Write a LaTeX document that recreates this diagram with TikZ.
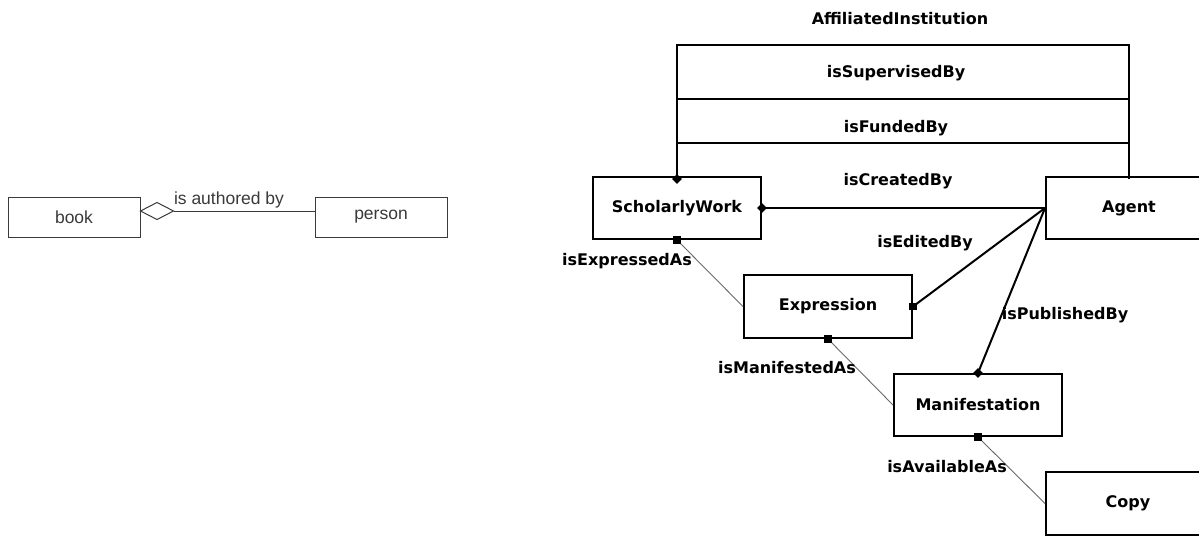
\documentclass[tikz,border=0pt]{standalone}
\usepackage{fontspec}
\usetikzlibrary{shapes.geometric}
\newfontfamily\umlfont{DejaVu Sans}
\newfontfamily\plainfont{Liberation Sans}
\definecolor{inkgray}{HTML}{3A3A3A}
\definecolor{linkgray}{HTML}{6A6A6A}
\tikzset{
  cls/.style={draw=black, line width=2pt, rectangle, inner sep=0pt,
    font=\umlfont\bfseries\fontsize{16}{19}\selectfont},
  simplecls/.style={draw=inkgray, line width=1pt, rectangle, inner sep=0pt,
    minimum width=132pt, minimum height=40pt, text=inkgray,
    font=\plainfont\fontsize{17.5}{20}\selectfont},
  rel/.style={draw=black, line width=2pt},
  weak/.style={draw=linkgray, line width=0.9pt},
  lbl/.style={inner sep=0pt, font=\umlfont\bfseries\fontsize{16}{19}\selectfont},
  dmark/.style={diamond, fill=black, inner sep=0pt, minimum size=10pt},
  smark/.style={rectangle, fill=black, inner sep=0pt, minimum size=7.5pt},
}
\begin{document}
\begin{tikzpicture}[x=1pt, y=-1pt]
\useasboundingbox (0,0) rectangle (1199,536);
\clip (0,0) rectangle (1199,536);
\fill[white] (0,0) rectangle (1199,536);

% simple association on the left
\node[simplecls] (book) at (74,217) {book};
\node[simplecls] (person) at (381,217) {person};
\coordinate (dstart) at (book.east |- 0,211);
\draw[draw=inkgray, line width=1pt, fill=white]
  (dstart) -- ++(16.5,-8.5) coordinate (dtop) -- ++(16.5,8.5) coordinate (dtip)
  -- ++(-16.5,8.5) -- cycle;
\draw[draw=inkgray, line width=1pt] (dtip) -- (person.west |- dtip);
\node[inner sep=0pt, text=inkgray, font=\plainfont\fontsize{17.5}{20}\selectfont]
  (authlbl) at (229,200) {is authored by};

% classes
\node[cls, minimum width=168pt, minimum height=62pt] (sw) at (677,208) {ScholarlyWork};
\node[cls, minimum width=166pt, minimum height=62pt] (agent) at (1129,208) {Agent};
\node[cls, minimum width=168pt, minimum height=63pt] (expr) at (828,306.5) {Expression};
\node[cls, minimum width=168pt, minimum height=62pt] (manif) at (978,405) {Manifestation};
\node[cls, minimum width=164pt, minimum height=63pt] (copy) at (1128,503.5) {Copy};

% frame of relations above the two top classes
\coordinate (ytop) at (0,45);
\coordinate (ymid) at (0,99);
\coordinate (ylow) at (0,143);
\draw[rel] (sw.north) -- (sw.north |- ytop) -- (agent.north |- ytop)
  -- ([yshift=-3pt]agent.north);
\draw[rel] (sw.north |- ymid) -- (agent.north |- ymid);
\draw[rel] (sw.north |- ylow) -- (agent.north |- ylow);

% relations from Agent
\draw[rel] (sw.east) -- (agent.west);
\draw[rel] (agent.west) -- (expr.east);
\draw[rel] (agent.west) -- (manif.north);

% chain of realisations
\draw[weak] (sw.south) -- (expr.west);
\draw[weak] (expr.south) -- (manif.west);
\draw[weak] (manif.south) -- (copy.west);

% end markers
\node[dmark] at ([yshift=-3pt]sw.north) {};
\node[dmark] at (sw.east) {};
\node[smark] at (expr.east) {};
\node[dmark] at (manif.north) {};
\node[smark] at (sw.south) {};
\node[smark] at (expr.south) {};
\node[smark] at (manif.south) {};

% labels
\node[lbl] (l1) at (900,19) {AffiliatedInstitution};
\node[lbl] (l2) at (896,73) {isSupervisedBy};
\node[lbl] (l3) at (896,128) {isFundedBy};
\node[lbl] (l4) at (898,181) {isCreatedBy};
\node[lbl] (l5) at (925,243) {isEditedBy};
\node[lbl] (l6) at (1065,315) {isPublishedBy};
\node[lbl] (l7) at (627,261) {isExpressedAs};
\node[lbl] (l8) at (787,368) {isManifestedAs};
\node[lbl] (l9) at (947,467) {isAvailableAs};
\end{tikzpicture}
\end{document}
